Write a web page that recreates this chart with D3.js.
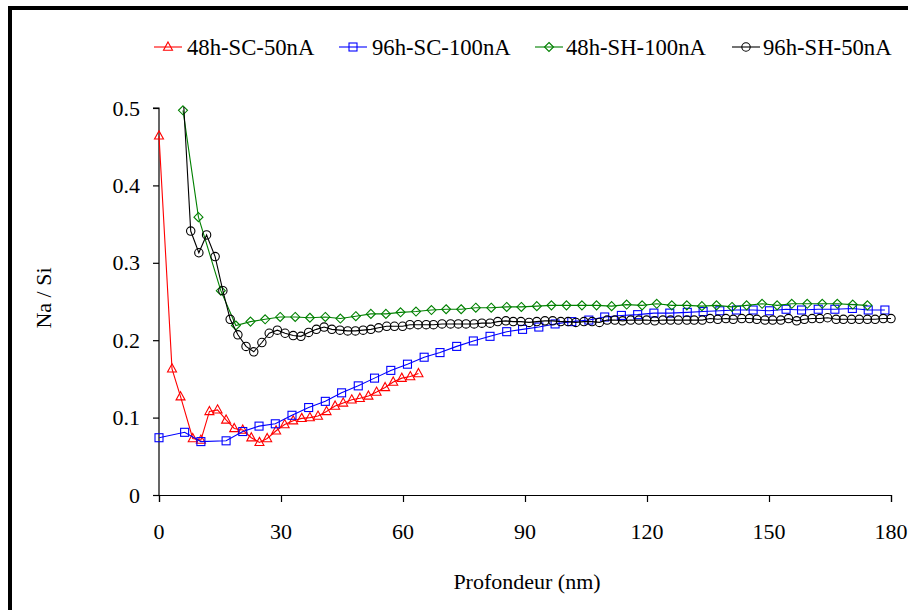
<!DOCTYPE html>
<html><head><meta charset="utf-8">
<script src="https://cdn.jsdelivr.net/npm/d3@7/dist/d3.min.js"></script>
</head><body style="margin:0">
<svg id="chart" width="908" height="610"></svg>
<script>
// ---- data ----
const seriesNames = ["48h-SC-50nA", "96h-SC-100nA", "48h-SH-100nA", "96h-SH-50nA"];
const xTicks = [0, 30, 60, 90, 120, 150, 180];
const yTicks = [0, 0.1, 0.2, 0.3, 0.4, 0.5];

const scDepth48 = [0, 3.2, 5.3, 8.3, 10.3, 12.4, 14.4, 16.5, 18.5, 20.6, 22.7, 24.7, 26.6, 28.8, 30.9, 33.0, 35.1, 37.1, 39.1, 41.2, 43.3, 45.3, 47.4, 49.4, 51.5, 53.5, 55.6, 57.6, 59.7, 61.8, 63.8];
const scRatio48 = [0.464, 0.163, 0.127, 0.073, 0.071, 0.108, 0.110, 0.097, 0.086, 0.084, 0.074, 0.068, 0.073, 0.083, 0.091, 0.096, 0.099, 0.100, 0.102, 0.108, 0.115, 0.119, 0.123, 0.125, 0.128, 0.133, 0.139, 0.146, 0.151, 0.153, 0.157];

const scDepth96 = [0, 6.3, 10.3, 16.5, 20.6, 24.6, 28.6, 32.7, 36.8, 40.9, 44.9, 49.0, 53.0, 57.0, 61.1, 65.2, 69.1, 73.2, 77.3, 81.4, 85.5, 89.4, 93.4, 97.4, 101.5, 105.7, 109.6, 113.7, 117.7, 121.7, 125.6, 129.9, 133.8, 137.9, 142.0, 146.1, 150.1, 154.2, 158.0, 162.1, 166.2, 170.5, 174.4, 178.5];
const scRatio96 = [0.074, 0.081, 0.069, 0.070, 0.082, 0.089, 0.092, 0.103, 0.113, 0.121, 0.132, 0.141, 0.151, 0.161, 0.169, 0.178, 0.184, 0.192, 0.199, 0.205, 0.211, 0.214, 0.217, 0.221, 0.224, 0.226, 0.230, 0.232, 0.233, 0.235, 0.235, 0.236, 0.237, 0.238, 0.239, 0.239, 0.238, 0.240, 0.239, 0.240, 0.240, 0.241, 0.239, 0.239];

const shDepth48 = [5.9, 9.7, 15.2, 18.9, 22.5, 26.1, 29.8, 33.5, 37.1, 40.9, 44.6, 48.4, 52.1, 55.8, 59.4, 63.2, 67.0, 70.6, 74.3, 77.9, 81.7, 85.5, 89.1, 92.9, 96.5, 100.2, 104.0, 107.6, 111.3, 115.0, 118.8, 122.4, 126.1, 129.8, 133.5, 137.1, 140.9, 144.5, 148.3, 152.0, 155.6, 159.4, 163.1, 166.8, 170.6, 174.2];
const shRatio48 = [0.497, 0.359, 0.264, 0.219, 0.224, 0.227, 0.230, 0.230, 0.229, 0.230, 0.228, 0.231, 0.234, 0.234, 0.236, 0.237, 0.239, 0.240, 0.240, 0.242, 0.242, 0.243, 0.243, 0.244, 0.245, 0.245, 0.245, 0.245, 0.244, 0.246, 0.245, 0.247, 0.245, 0.245, 0.244, 0.245, 0.243, 0.245, 0.247, 0.245, 0.247, 0.247, 0.247, 0.247, 0.246, 0.245];

const shDepth96 = [5.8, 7.8, 9.8, 11.7, 13.8, 15.7, 17.5, 19.4, 21.4, 23.3, 25.3, 27.1, 29.1, 31.0, 33.0, 34.9, 36.8, 38.7, 40.6, 42.5, 44.5, 46.4, 48.3, 50.2, 52.1, 54.0, 56.0, 57.9, 59.9, 61.7, 63.7, 65.7, 67.5, 69.6, 71.7, 73.6, 75.5, 77.5, 79.4, 81.4, 83.3, 85.3, 87.1, 89.0, 91.0, 92.9, 94.9, 96.8, 98.8, 100.6, 102.5, 104.5, 106.5, 108.3, 110.2, 112.1, 114.0, 116.0, 118.0, 119.9, 121.9, 123.9, 125.8, 127.7, 129.8, 131.6, 133.6, 135.5, 137.4, 139.4, 141.2, 143.3, 145.2, 147.0, 149.0, 150.9, 152.9, 154.8, 156.8, 158.7, 160.6, 162.5, 164.4, 166.5, 168.3, 170.3, 172.2, 174.2, 176.1, 178.1, 180.0];
const shRatio96 = [0.53, 0.341, 0.313, 0.336, 0.308, 0.264, 0.227, 0.207, 0.192, 0.185, 0.197, 0.209, 0.213, 0.209, 0.206, 0.205, 0.210, 0.214, 0.217, 0.214, 0.213, 0.212, 0.212, 0.213, 0.214, 0.216, 0.218, 0.218, 0.218, 0.220, 0.220, 0.220, 0.220, 0.221, 0.221, 0.221, 0.221, 0.221, 0.222, 0.222, 0.224, 0.225, 0.224, 0.224, 0.223, 0.224, 0.225, 0.225, 0.224, 0.224, 0.223, 0.224, 0.224, 0.223, 0.226, 0.226, 0.225, 0.226, 0.226, 0.226, 0.225, 0.226, 0.226, 0.226, 0.226, 0.226, 0.226, 0.228, 0.227, 0.228, 0.227, 0.228, 0.228, 0.227, 0.226, 0.226, 0.226, 0.228, 0.225, 0.227, 0.228, 0.228, 0.229, 0.227, 0.227, 0.227, 0.227, 0.227, 0.227, 0.228, 0.228];

const seriesColors = ["#FF0000", "#0000FF", "#008000", "#000000"];
const seriesShapes = ["triangle", "square", "diamond", "circle"];

// ---- build ----
const FONT = "Times New Roman";
const series = [
  {depth: scDepth48, ratio: scRatio48},
  {depth: scDepth96, ratio: scRatio96},
  {depth: shDepth48, ratio: shRatio48},
  {depth: shDepth96, ratio: shRatio96}
].map((s, i) => ({
  name: seriesNames[i], color: seriesColors[i], shape: seriesShapes[i],
  pts: s.depth.map((d, j) => ({d: d, v: s.ratio[j]}))
}));

const svg = d3.select("#chart");
const W = 908, H = 610;
const plot = {left: 159, right: 891, top: 108, bottom: 495};

const x = d3.scaleLinear().domain([0, 180]).range([plot.left, plot.right]);
const y = d3.scaleLinear().domain([0, 0.5]).range([plot.bottom, plot.top]);

function txt(sel, size) {
  return sel.attr("font-family", FONT).style("font-family", FONT).attr("font-size", size || 22).attr("fill", "#000");
}

svg.append("rect").attr("width", W).attr("height", H).attr("fill", "#fff");
// outer frame (partially outside the picture)
svg.append("rect").attr("x", 10).attr("y", 8).attr("width", 1000).attr("height", 700)
  .attr("fill", "none").attr("stroke", "#000").attr("stroke-width", 4);

svg.append("defs").append("clipPath").attr("id", "plotclip")
  .append("rect").attr("x", plot.left - 10).attr("y", plot.top - 1)
  .attr("width", plot.right - plot.left + 20).attr("height", plot.bottom - plot.top + 10);

// axes (lines via d3.axis, labels as plain text)
const fmt = d => d === 0 ? "0" : d3.format(".1f")(d);
const yAxis = d3.axisLeft(y).tickValues(yTicks).tickFormat("").tickSize(6);
const xAxis = d3.axisBottom(x).tickValues(xTicks).tickFormat("").tickSize(7);

const gy = svg.append("g").attr("transform", `translate(${plot.left},0)`).call(yAxis);
const gx = svg.append("g").attr("transform", `translate(0,${plot.bottom})`).call(xAxis);
[gx, gy].forEach(g => {
  g.select(".domain").attr("stroke", "#000").attr("stroke-width", 1.2);
  g.selectAll(".tick line").attr("stroke", "#000").attr("stroke-width", 1.2);
  g.selectAll(".tick text").remove();
});
gy.select(".domain").attr("d", `M-6,${plot.top}H0V${plot.bottom}`);

const labels = svg.append("g");
yTicks.forEach(t => {
  txt(labels.append("text")).attr("x", plot.left - 19).attr("y", y(t) + 7.5)
    .attr("text-anchor", "end").text(fmt(t));
});
xTicks.forEach(t => {
  txt(labels.append("text")).attr("x", x(t)).attr("y", plot.bottom + 44)
    .attr("text-anchor", "middle").text(d3.format("d")(t));
});

// marker drawing
function marker(g, shape, color) {
  if (shape === "triangle") {
    g.append("path").attr("d", "M0,-5L4.5,3.2L-4.5,3.2Z");
  } else if (shape === "square") {
    g.append("rect").attr("x", -4).attr("y", -4).attr("width", 8).attr("height", 8);
  } else if (shape === "diamond") {
    g.append("path").attr("d", "M0,-4.5L4.5,0L0,4.5L-4.5,0Z");
  } else {
    g.append("circle").attr("r", 4.2);
  }
  g.selectAll("*").attr("fill", "none").attr("stroke", color).attr("stroke-width", 1.1);
}

const line = d3.line().x(p => x(p.d)).y(p => y(p.v));

series.forEach(s => {
  const g = svg.append("g");
  g.append("path").datum(s.pts).attr("d", line)
    .attr("fill", "none").attr("stroke", s.color).attr("stroke-width", 1.1)
    .attr("clip-path", "url(#plotclip)");
  s.pts.filter(p => p.v <= 0.5).forEach(p => {
    const m = g.append("g").attr("transform", `translate(${x(p.d)},${y(p.v)})`);
    marker(m, s.shape, s.color);
  });
});

// legend
const legendItems = [
  {lx: 154, tx: 187}, {lx: 339, tx: 372}, {lx: 535, tx: 566}, {lx: 732, tx: 763}
];
series.forEach((s, i) => {
  const it = legendItems[i];
  const g = svg.append("g");
  g.append("line").attr("x1", it.lx).attr("x2", it.lx + 28).attr("y1", 47).attr("y2", 47)
    .attr("stroke", s.color).attr("stroke-width", 1.1);
  const m = g.append("g").attr("transform", `translate(${it.lx + 14},47)`);
  marker(m, s.shape, s.color);
  txt(g.append("text"), 22.7).attr("x", it.tx).attr("y", 55).text(s.name);
});

// axis titles
txt(svg.append("text")).attr("x", 527).attr("y", 589).attr("text-anchor", "middle").text("Profondeur (nm)");
txt(svg.append("text")).attr("transform", "translate(51,298) rotate(-90)")
  .attr("text-anchor", "middle").text("Na / Si");
</script>
</body></html>
